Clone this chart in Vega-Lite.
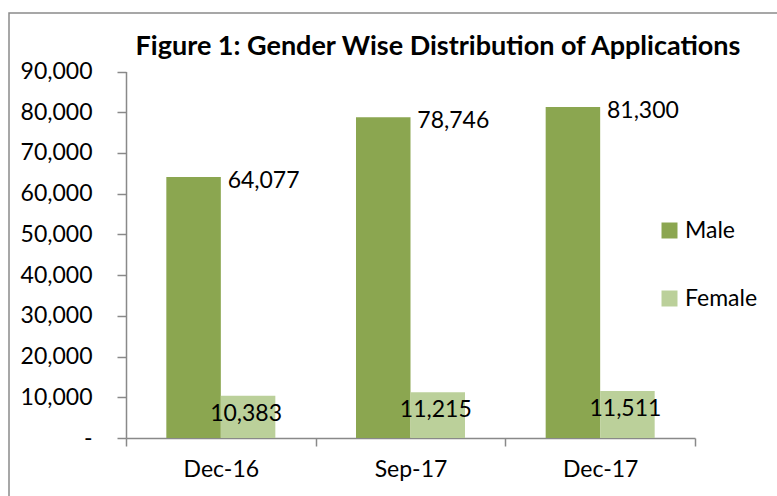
{
  "$schema": "https://vega.github.io/schema/vega-lite/v6.json",
  "autosize": {"type": "none"},
  "width": 778,
  "height": 493,
  "padding": {"left": 9, "top": 13, "right": -10, "bottom": -10},
  "background": "white",
  "config": {
    "view": {"stroke": "#8A8A8A", "strokeWidth": 1.5},
    "font": "Lato",
    "text": {"font": "Lato"}
  },
  "title": {
    "text": "Figure 1: Gender Wise Distribution of Applications",
    "font": "Lato",
    "fontSize": 27,
    "fontWeight": "bold",
    "color": "black",
    "anchor": "middle",
    "frame": "group",
    "offset": -48,
    "dx": 40
  },
  "data": {
    "values": [
      {"date": "Dec-16", "gender": "Male", "value": 64077},
      {"date": "Dec-16", "gender": "Female", "value": 10383},
      {"date": "Sep-17", "gender": "Male", "value": 78746},
      {"date": "Sep-17", "gender": "Female", "value": 11215},
      {"date": "Dec-17", "gender": "Male", "value": 81300},
      {"date": "Dec-17", "gender": "Female", "value": 11511}
    ]
  },
  "encoding": {
    "x": {
      "field": "date",
      "type": "nominal",
      "sort": ["Dec-16", "Sep-17", "Dec-17"],
      "scale": {"range": [117, 686], "paddingInner": 0, "paddingOuter": 0},
      "axis": {
        "title": null,
        "offset": -68,
        "labelAngle": 0,
        "tickBand": "extent",
        "labelFont": "Lato",
        "labelFontSize": 23,
        "labelFontWeight": "normal",
        "labelColor": "black",
        "labelPadding": 12,
        "tickSize": 8,
        "domainColor": "#898989",
        "tickColor": "#898989",
        "domainWidth": 1.5,
        "tickWidth": 1.5,
        "grid": false
      }
    },
    "xOffset": {
      "field": "gender",
      "type": "nominal",
      "sort": ["Male", "Female"],
      "scale": {"paddingInner": 0, "paddingOuter": 0.74}
    },
    "y": {
      "field": "value",
      "type": "quantitative",
      "scale": {"domain": [0, 90000], "range": [425, 58.5], "nice": false, "zero": true},
      "axis": {
        "title": null,
        "offset": -117,
        "values": [0, 10000, 20000, 30000, 40000, 50000, 60000, 70000, 80000, 90000],
        "labelExpr": "datum.value === 0 ? '-\u00a0\u00a0\u00a0' : format(datum.value, ',')",
        "labelFont": "Lato",
        "labelFontSize": 23,
        "labelFontWeight": "normal",
        "labelColor": "black",
        "labelPadding": 25,
        "tickSize": 9,
        "domainColor": "#898989",
        "tickColor": "#898989",
        "domainWidth": 1.5,
        "tickWidth": 1.5,
        "grid": false
      }
    }
  },
  "layer": [
    {
      "mark": {"type": "bar"},
      "encoding": {
        "color": {
          "field": "gender",
          "type": "nominal",
          "sort": ["Male", "Female"],
          "scale": {"domain": ["Male", "Female"], "range": ["#8BA650", "#BBD09A"]},
          "legend": {
            "orient": "none",
            "legendX": 649,
            "legendY": 206,
            "title": null,
            "padding": 0,
            "symbolType": "square",
            "symbolSize": 256,
            "symbolStrokeWidth": 0,
            "symbolOpacity": 1,
            "labelFont": "Lato",
            "labelFontSize": 23,
            "labelFontWeight": "normal",
            "labelColor": "black",
            "labelOffset": 4,
            "rowPadding": 44
          }
        }
      }
    },
    {
      "transform": [{"filter": "datum.gender === 'Male'"}],
      "mark": {"type": "text", "dx": 70, "dy": 4, "baseline": "middle", "align": "center", "fontSize": 23, "fontWeight": "normal", "color": "black"},
      "encoding": {"text": {"field": "value", "type": "quantitative", "format": ","}}
    },
    {
      "transform": [{"filter": "datum.gender === 'Female'"}],
      "mark": {"type": "text", "dx": -2, "dy": 18, "baseline": "middle", "align": "center", "fontSize": 23, "fontWeight": "normal", "color": "black"},
      "encoding": {"text": {"field": "value", "type": "quantitative", "format": ","}}
    }
  ]
}
